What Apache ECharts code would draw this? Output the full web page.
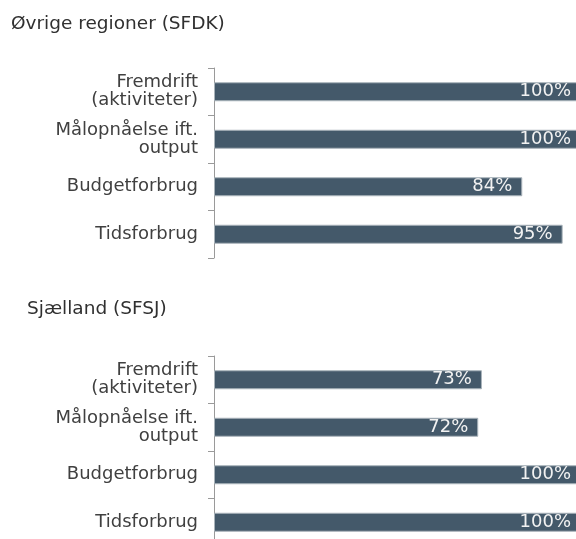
<!DOCTYPE html>
<html>
<head>
<meta charset="utf-8">
<script src="https://cdn.jsdelivr.net/npm/echarts@6/dist/echarts.min.js"></script>
<style>
  html, body { margin: 0; padding: 0; background: #fff; }
  #chart { width: 576px; height: 539px; }
</style>
</head>
<body>
<div id="chart"></div>
<script>
// categories shared by both panels
const categories = [
  'Fremdrift\n(aktiviteter)',
  'Målopnåelse ift.\noutput',
  'Budgetforbrug',
  'Tidsforbrug',
];
const titleTop = 'Øvrige regioner (SFDK)';
const titleBottom = 'Sjælland (SFSJ)';
const valuesTop = [100, 100, 84, 95];
const valuesBottom = [73, 72, 100, 100];

const barColor = '#44596a';
const font = 'DejaVu Sans';

const chart = echarts.init(document.getElementById('chart'));

function yAxis(gridIndex) {
  return {
    type: 'category',
    gridIndex,
    inverse: true,
    data: categories,
    axisLine: { show: true, lineStyle: { color: '#9a9a9a', width: 1 } },
    axisTick: { show: true, length: 6, lineStyle: { color: '#9a9a9a' } },
    axisLabel: {
      color: '#404040',
      fontFamily: font,
      fontSize: 18,
      lineHeight: 18,
      margin: 16,
      align: 'right',
    },
  };
}

function xAxis(gridIndex) {
  return {
    type: 'value',
    gridIndex,
    min: 0,
    max: 100,
    show: false,
    splitLine: { show: false },
  };
}

function barSeries(idx, values) {
  return {
    type: 'bar',
    xAxisIndex: idx,
    yAxisIndex: idx,
    data: values,
    barWidth: '40%',
    itemStyle: {
      color: barColor,
      borderColor: '#a9b3ba',
      borderWidth: 1,
    },
    label: {
      show: true,
      position: 'insideRight',
      distance: 10,
      color: '#f2f2f2',
      fontFamily: font,
      fontSize: 18,
      formatter: (p) => p.value + '%',
    },
    silent: true,
  };
}

const titleStyle = { fontFamily: font, fontSize: 18.5, fontWeight: 'normal', color: '#303030' };

const option = {
  animation: false,
  backgroundColor: '#fff',
  title: [
    { text: titleTop, left: 6, top: 10, textStyle: titleStyle },
    { text: titleBottom, left: 22, top: 295, textStyle: titleStyle },
  ],
  grid: [
    { left: 214, right: -5, top: 68, height: 190, containLabel: false, outerBoundsMode: 'none' },
    { left: 214, right: -5, top: 356, height: 190, containLabel: false, outerBoundsMode: 'none' },
  ],
  xAxis: [xAxis(0), xAxis(1)],
  yAxis: [yAxis(0), yAxis(1)],
  series: [barSeries(0, valuesTop), barSeries(1, valuesBottom)],
};

chart.setOption(option);
</script>
</body>
</html>
